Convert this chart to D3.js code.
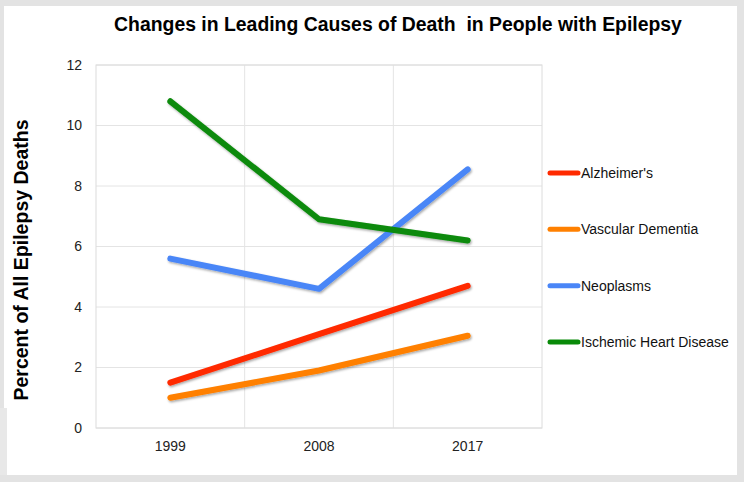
<!DOCTYPE html>
<html><head><meta charset="utf-8">
<script src="https://cdn.jsdelivr.net/npm/d3@7"></script>
<style>html,body{margin:0;padding:0;background:#fff;}svg{display:block;}</style>
</head><body>
<svg id="chart" width="744" height="482"></svg>
<script>
const categories = ["1999", "2008", "2017"];
const seriesNames = ["Alzheimer's", "Vascular Dementia", "Neoplasms", "Ischemic Heart Disease"];
const alzheimers = [1.5, 3.1, 4.7];
const vascularDementia = [1.0, 1.9, 3.05];
const neoplasms = [5.6, 4.6, 8.55];
const ischemicHeart = [10.8, 6.9, 6.2];
const yTicks = [0, 2, 4, 6, 8, 10, 12];
const colors = ["#ff2a00", "#ff8000", "#4a86f7", "#098a09"];
const title = "Changes in Leading Causes of Death\u00a0 in People with Epilepsy";
const yTitle = "Percent of All Epilepsy Deaths";

const series = [alzheimers, vascularDementia, neoplasms, ischemicHeart].map((v, i) => ({name: seriesNames[i], values: v, color: colors[i]}));

const svg = d3.select("#chart");
const W = 744, H = 482;
const m = {left: 96, right: 202, top: 65, bottom: 54};
const pw = W - m.left - m.right, ph = H - m.top - m.bottom;
const FONT = "Liberation Sans, Arial, sans-serif";

// frame
svg.append("rect").attr("width", W).attr("height", H).attr("fill", "#e3e3e3");
svg.append("rect").attr("x", 4).attr("y", 6).attr("width", 733).attr("height", 469).attr("fill", "#fff");
svg.append("rect").attr("x", 0).attr("y", 408).attr("width", 7).attr("height", 67).attr("fill", "#e8e8e8");

const defs = svg.append("defs");
const f = defs.append("filter").attr("id", "sh").attr("x", "-10%").attr("y", "-10%").attr("width", "120%").attr("height", "130%");
f.append("feDropShadow").attr("dx", 1).attr("dy", 1.5).attr("stdDeviation", 1.2).attr("flood-color", "#000").attr("flood-opacity", 0.35);

const x = d3.scaleBand().domain(categories).range([m.left, m.left + pw]);
const y = d3.scaleLinear().domain([0, 12]).range([m.top + ph, m.top]);

const g = svg.append("g");
g.selectAll(".hg").data(yTicks).join("line")
  .attr("x1", m.left).attr("x2", m.left + pw)
  .attr("y1", d => y(d)).attr("y2", d => y(d))
  .attr("stroke", "#e4e4e4").attr("stroke-width", 1);
const bounds = categories.slice(1).map(c => x(c));
g.selectAll(".vg").data(bounds).join("line")
  .attr("x1", d => d).attr("x2", d => d)
  .attr("y1", m.top).attr("y2", m.top + ph)
  .attr("stroke", "#e4e4e4").attr("stroke-width", 1);
g.append("rect").attr("x", m.left).attr("y", m.top).attr("width", pw).attr("height", ph)
  .attr("fill", "none").attr("stroke", "#dcdcdc").attr("stroke-width", 1);

const yAxis = d3.axisLeft(y).tickValues(yTicks).tickSize(0).tickPadding(14).tickFormat(d3.format("d"));
const ya = svg.append("g").attr("transform", `translate(${m.left},0)`).call(yAxis);
ya.select(".domain").remove();
ya.selectAll("text").attr("font-family", FONT).attr("font-size", 14).attr("fill", "#222");

const xAxis = d3.axisBottom(x).tickSize(0).tickPadding(13);
const xa = svg.append("g").attr("transform", `translate(0,${m.top + ph})`).call(xAxis);
xa.select(".domain").remove();
xa.selectAll("text").attr("font-family", FONT).attr("font-size", 14).attr("fill", "#222");

const line = d3.line().x((d, i) => x(categories[i]) + x.bandwidth() / 2).y(d => y(d));
svg.append("g").attr("filter", "url(#sh)").selectAll("path").data(series).join("path")
  .attr("d", d => line(d.values))
  .attr("fill", "none").attr("stroke", d => d.color).attr("stroke-width", 6)
  .attr("stroke-linecap", "round").attr("stroke-linejoin", "round");

const lg = svg.append("g");
const ly = d3.scalePoint().domain(seriesNames).range([173, 342]);
const items = lg.selectAll("g").data(series).join("g").attr("transform", d => `translate(0,${ly(d.name)})`);
items.append("line").attr("x1", 550).attr("x2", 578).attr("y1", 0).attr("y2", 0)
  .attr("stroke", d => d.color).attr("stroke-width", 5).attr("stroke-linecap", "round");
items.append("text").attr("x", 581).attr("y", 0).attr("dy", "0.35em")
  .attr("font-family", FONT).attr("font-size", 14).attr("fill", "#111")
  .text(d => d.name);

svg.append("text").attr("x", 398).attr("y", 31).attr("text-anchor", "middle")
  .attr("font-family", FONT).attr("font-weight", "bold").attr("font-size", 19.4)
  .attr("fill", "#000").text(title);
svg.append("text").attr("transform", `translate(28,260) rotate(-90)`).attr("text-anchor", "middle")
  .attr("font-family", FONT).attr("font-weight", "bold").attr("font-size", 19.5)
  .attr("fill", "#000").text(yTitle);
</script>
</body></html>
